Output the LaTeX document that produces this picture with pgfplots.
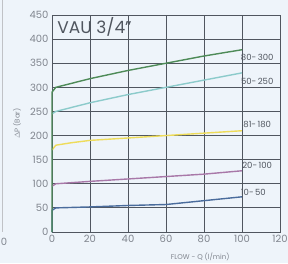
\documentclass[border=0pt]{standalone}
\usepackage{pgfplots}
\pgfplotsset{compat=1.18}
\usepackage{fontspec}
\setmainfont{Poppins}
\definecolor{bg}{HTML}{EEF4FA}
\definecolor{gridc}{HTML}{50565F}
\definecolor{txt}{HTML}{80858E}
\definecolor{cgreen}{HTML}{4E8B58}
\definecolor{cteal}{HTML}{8CCBCB}
\definecolor{cyellow}{HTML}{EEDC5A}
\definecolor{cpurple}{HTML}{A878A8}
\definecolor{cblue}{HTML}{4A6C9C}
\begin{document}
\begin{tikzpicture}
\fill[bg] (-52pt,-31pt) rectangle (236pt,232pt);
\useasboundingbox (-52pt,-31pt) rectangle (236pt,232pt);
\draw[txt!50, line width=0.6pt] (-50pt,232pt) -- (-50pt,0pt);
\node[font=\fontsize{10}{11}\selectfont, text=txt] at (-48pt,-10pt) {0};
\begin{axis}[
  at={(0,0)}, anchor=origin,
  scale only axis, width=228pt, height=217pt,
  xmin=0, xmax=120, ymin=0, ymax=450,
  xtick={0,20,...,120}, ytick={0,50,...,450},
  grid=major,
  major grid style={gridc, line width=0.8pt},
  axis line style={gridc, line width=0.8pt},
  tick style={draw=none},
  ticklabel style={font=\fontsize{10}{11}\selectfont, text=txt},
  /pgf/number format/assume math mode=true,
  xlabel={FLOW - Q (l/min)}, ylabel={$\Delta$P (Bar)},
  xlabel style={font=\fontsize{7}{8}\selectfont, text=txt, at={(axis description cs:0.65,0)}, anchor=north, yshift=-17pt},
  ylabel style={font=\fontsize{7}{8}\selectfont, text=txt, at={(axis description cs:-0.153,0.5)}, anchor=center, rotate=0},
  clip=false,
]
\addplot[cblue, line width=1.4pt] coordinates {(0,0) (0,45) (2,50) (20,52) (40,55) (60,57) (80,65) (100,73)};
\addplot[cpurple, line width=1.4pt] coordinates {(0,95) (2,100) (20,105) (40,110) (60,115) (80,120) (100,127)};
\addplot[cyellow, line width=1.4pt] coordinates {(0,170) (2,180) (10,185) (20,190) (40,195) (60,200) (80,205) (100,210)};
\addplot[cteal, line width=1.4pt] coordinates {(0,245) (2,250) (20,268) (40,285) (60,300) (80,315) (100,330)};
\addplot[cgreen, line width=1.4pt] coordinates {(0,0) (0,290) (2,300) (20,318) (40,335) (60,350) (80,365) (100,378)};
\node[font=\fontsize{8.5}{9}\selectfont, text=gridc] at (axis cs:108,363) {80-\,300};
\node[font=\fontsize{8.5}{9}\selectfont, text=gridc] at (axis cs:108,313) {50-\,250};
\node[font=\fontsize{8.5}{9}\selectfont, text=gridc] at (axis cs:108,224) {81-\,180};
\node[font=\fontsize{8.5}{9}\selectfont, text=gridc] at (axis cs:108,139) {20-\,100};
\node[font=\fontsize{8.5}{9}\selectfont, text=gridc] at (axis cs:106,83) {10-\,50};
\node[font=\fontsize{17}{19}\selectfont, text=gridc, anchor=west] at (axis cs:1,425) {VAU 3/4"};
\end{axis}
\end{tikzpicture}
\end{document}
